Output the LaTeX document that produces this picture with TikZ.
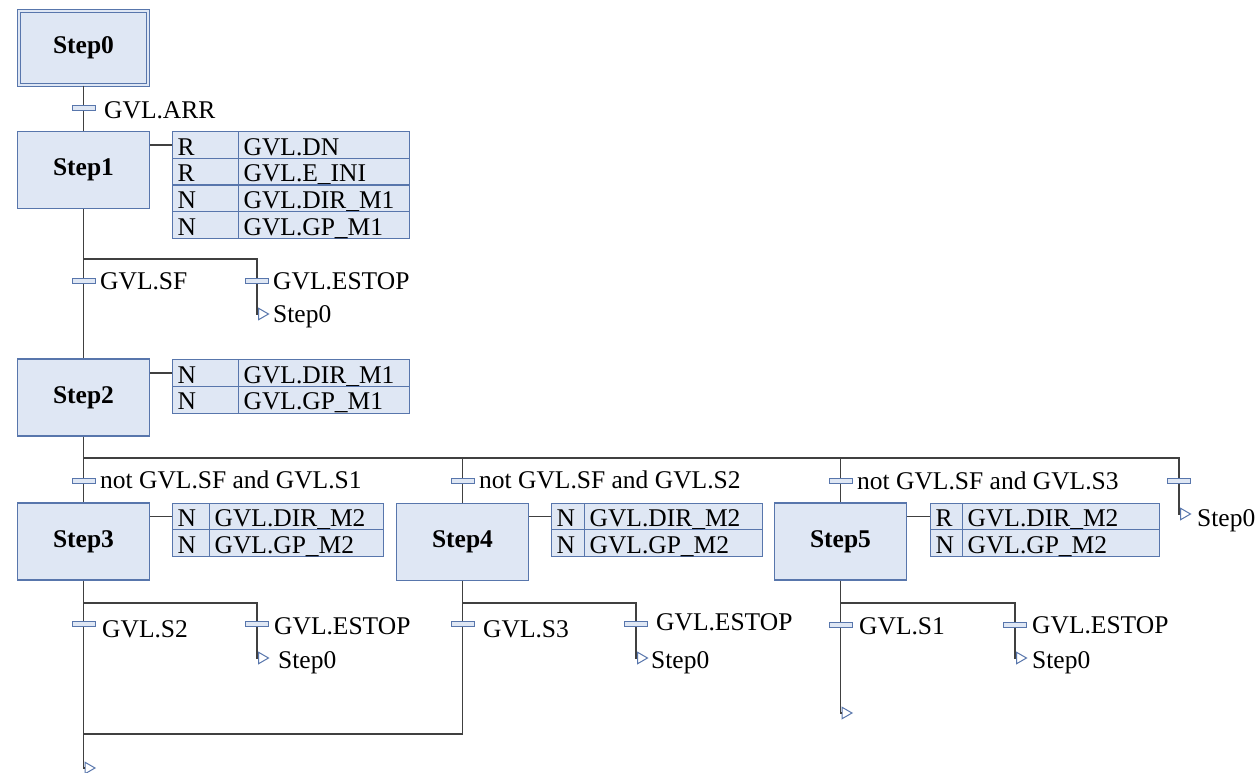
\documentclass[tikz,border=0pt]{standalone}
\usepackage{fontspec}
\setmainfont{Liberation Serif}
\usetikzlibrary{shapes.geometric}
\definecolor{stepfill}{RGB}{223,231,244}
\definecolor{stepline}{RGB}{88,118,172}
\definecolor{wirecol}{RGB}{64,64,64}

\begin{document}
\begin{tikzpicture}[x=1pt, y=-1pt, font=\fontsize{25.5}{30}\selectfont,
  stepbox/.style={draw=stepline, fill=stepfill, line width=1.3pt, minimum width=132pt, minimum height=77pt, font=\fontsize{25.5}{30}\selectfont\bfseries},
  initstep/.style={stepbox, double=stepfill, double distance=2pt, line width=1.1pt, minimum width=129pt, minimum height=74pt},
  trans/.style={draw=stepline, fill=stepfill, line width=1pt, minimum width=23pt, minimum height=5pt, inner sep=0pt},
  cell/.style={draw=stepline, fill=stepfill, line width=1.2pt, anchor=north west, inner xsep=5pt, inner ysep=0pt, text width=#1, align=left, text height=23.5pt, text depth=3.25pt},
  cond/.style={anchor=base west, inner sep=0pt},
  jump/.style={isosceles triangle, isosceles triangle apex angle=60, draw=stepline, fill=white, line width=1pt, inner sep=0pt, minimum height=10pt, anchor=west},
  wire/.style={draw=wirecol, line width=1.3pt}]
\useasboundingbox (0,0) rectangle (1259,773);

% steps
\node[initstep] (s0) at (83.5,48) {Step0};
\node[stepbox] (s1) at (83.5,170) {Step1};
\node[stepbox] (s2) at (83.5,397.5) {Step2};
\node[stepbox] (s3) at (83.5,541.5) {Step3};
\node[stepbox] (s4) at (462.5,542) {Step4};
\node[stepbox] (s5) at (840.5,541.5) {Step5};

% actions
\node[cell=56] (a1q1) at (172,131) {R};
\node[cell=161] (a1a1) at (238,131) {GVL.DN};
\node[cell=56] (a1q2) at (172,157.75) {R};
\node[cell=161] (a1a2) at (238,157.75) {GVL.E\_INI};
\node[cell=56] (a1q3) at (172,184.5) {N};
\node[cell=161] (a1a3) at (238,184.5) {GVL.DIR\_M1};
\node[cell=56] (a1q4) at (172,211.25) {N};
\node[cell=161] (a1a4) at (238,211.25) {GVL.GP\_M1};

\node[cell=56] (a2q1) at (172,359) {N};
\node[cell=161] (a2a1) at (238,359) {GVL.DIR\_M1};
\node[cell=56] (a2q2) at (172,385.75) {N};
\node[cell=161] (a2a2) at (238,385.75) {GVL.GP\_M1};

\node[cell=27] (a3q1) at (172,502.5) {N};
\node[cell=164] (a3a1) at (209,502.5) {GVL.DIR\_M2};
\node[cell=27] (a3q2) at (172,529.25) {N};
\node[cell=164] (a3a2) at (209,529.25) {GVL.GP\_M2};

\node[cell=23] (a4q1) at (551,502.5) {N};
\node[cell=168] (a4a1) at (584,502.5) {GVL.DIR\_M2};
\node[cell=23] (a4q2) at (551,529.25) {N};
\node[cell=168] (a4a2) at (584,529.25) {GVL.GP\_M2};

\node[cell=22] (a5q1) at (930,502.5) {R};
\node[cell=187] (a5a1) at (962,502.5) {GVL.DIR\_M2};
\node[cell=22] (a5q2) at (930,529.25) {N};
\node[cell=187] (a5a2) at (962,529.25) {GVL.GP\_M2};

% transitions
\node[trans] (t0) at (83.5,108.5) {};
\node[cond] (t0c) at (104,119) {GVL.ARR};
\node[trans] (t1) at (83.5,281) {};
\node[cond] (t1c) at (100,289) {GVL.SF};
\node[trans] (e1) at (257,281) {};
\node[cond] (e1c) at (273,289) {GVL.ESTOP};
\node[trans] (t3) at (83.5,481) {};
\node[cond] (t3c) at (100,488) {not GVL.SF and GVL.S1};
\node[trans] (t4) at (462.5,481) {};
\node[cond] (t4c) at (479,488) {not GVL.SF and GVL.S2};
\node[trans] (t5) at (840.5,481) {};
\node[cond] (t5c) at (857,489) {not GVL.SF and GVL.S3};
\node[trans] (e2) at (1179,481) {};
\node[trans] (t6) at (83.5,624) {};
\node[cond] (t6c) at (102,637) {GVL.S2};
\node[trans] (e3) at (257,624) {};
\node[cond] (e3c) at (274,634) {GVL.ESTOP};
\node[trans] (t7) at (462.5,624) {};
\node[cond] (t7c) at (483,637) {GVL.S3};
\node[trans] (e4) at (636,624) {};
\node[cond] (e4c) at (656,630) {GVL.ESTOP};
\node[trans] (t8) at (840.5,625) {};
\node[cond] (t8c) at (859,634) {GVL.S1};
\node[trans] (e5) at (1015,625) {};
\node[cond] (e5c) at (1032,633) {GVL.ESTOP};

% jumps
\node[jump] (j1) at (258,314) {};
\node[cond] (j1c) at (273,322) {Step0};
\node[jump] (j2) at (1180,514) {};
\node[cond] (j2c) at (1197,526) {Step0};
\node[jump] (j3) at (258,658) {};
\node[cond] (j3c) at (278,668) {Step0};
\node[jump] (j4) at (637,658) {};
\node[cond] (j4c) at (651,668) {Step0};
\node[jump] (j5) at (84.5,768) {};
\node[jump] (j6) at (841.5,713) {};
\node[jump] (j7) at (1016,658) {};
\node[cond] (j7c) at (1032,668) {Step0};

\coordinate (b1) at (83.5,259);
\coordinate (d0) at (83.5,458);
\coordinate (b3) at (83.5,603);
\coordinate (b4) at (462.5,603);
\coordinate (b5) at (840.5,603);
\coordinate (c1) at (83.5,734);

\draw[wire] (s0) -- (t0);
\draw[wire] (t0) -- (s1);
\draw[wire] (s1) -- (t1);
\draw[wire] (t1) -- (s2);
\draw[wire] (b1) -| (e1);
\draw[wire] (e1) |- (j1.west);
\draw[wire] (s2) -- (d0) -- (t3);
\draw[wire] (d0) -| (t4);
\draw[wire] (d0) -| (t5);
\draw[wire] (d0) -| (e2);
\draw[wire] (e2) |- (j2.west);
\draw[wire] (t3) -- (s3);
\draw[wire] (t4) -- (s4);
\draw[wire] (t5) -- (s5);

\draw[wire] (s3) -- (t6);
\draw[wire] (b3) -| (e3);
\draw[wire] (e3) |- (j3.west);
\draw[wire] (t6) -- (c1);
\draw[wire] (t7) |- (c1);
\draw[wire] (c1) |- (j5.west);
\draw[wire] (s4) -- (t7);
\draw[wire] (b4) -| (e4);
\draw[wire] (e4) |- (j4.west);
\draw[wire] (s5) -- (t8);
\draw[wire] (t8) |- (j6.west);
\draw[wire] (b5) -| (e5);
\draw[wire] (e5) |- (j7.west);

\draw[wire] (s1.east |- a1q1.west) -- (a1q1.west);
\draw[wire] (s2.east |- a2q1.west) -- (a2q1.west);
\draw[wire] (s3.east |- a3q1.west) -- (a3q1.west);
\draw[wire] (s4.east |- a4q1.west) -- (a4q1.west);
\draw[wire] (s5.east |- a5q1.west) -- (a5q1.west);
\end{tikzpicture}
\end{document}
